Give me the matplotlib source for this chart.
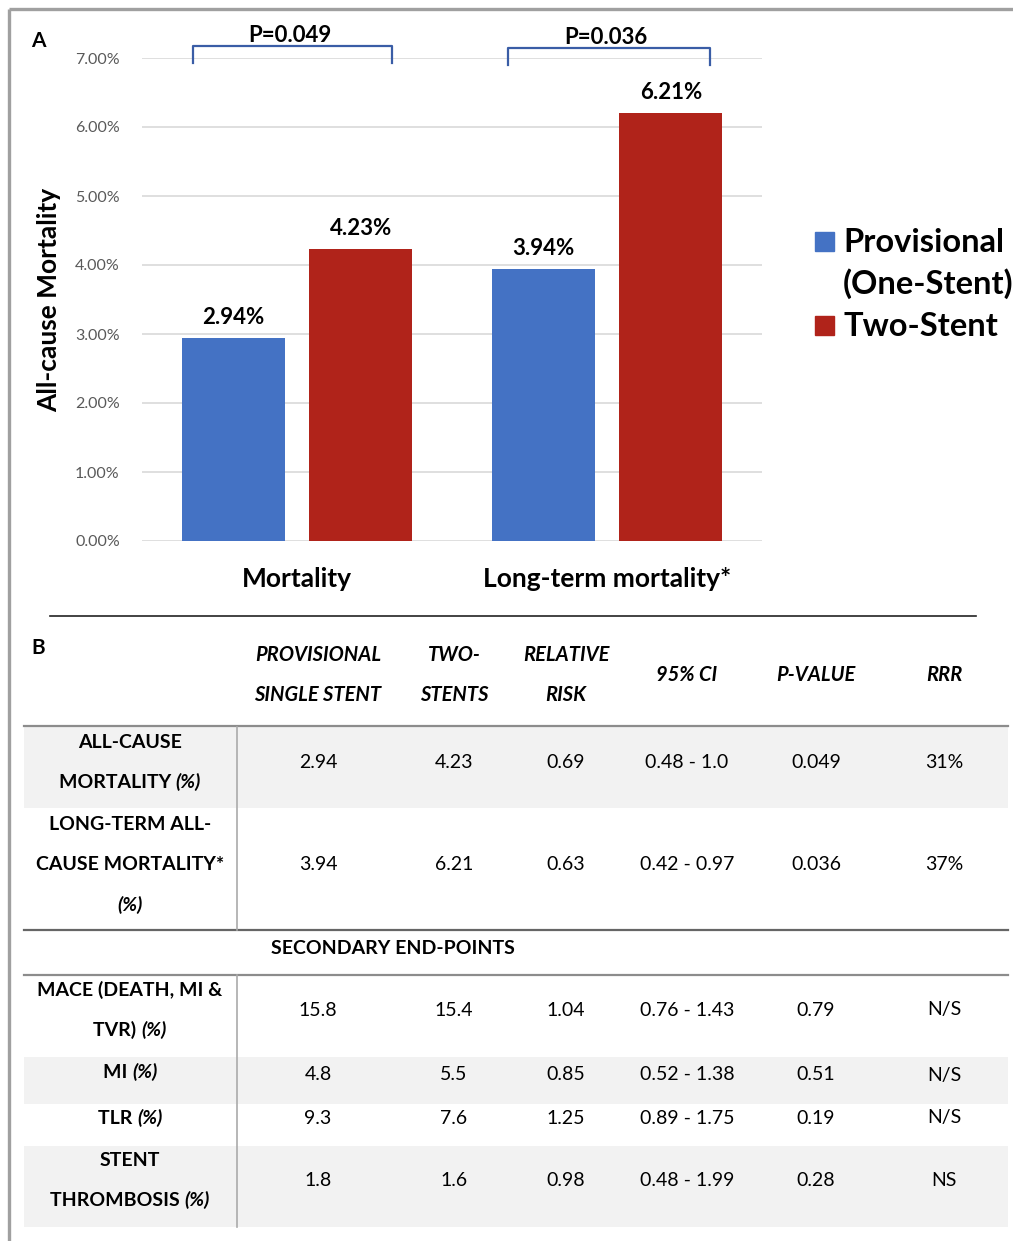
import matplotlib.pyplot as plt
from matplotlib.patches import Rectangle
import numpy as np

plt.rcParams['font.family'] = ['Lato', 'DejaVu Sans']

# data for panel A
groups = ['Mortality', 'Long-term mortality*']
provisional = [2.94, 3.94]
two_stent = [4.23, 6.21]
p_values = ['P=0.049', 'P=0.036']
yticks = [0, 1, 2, 3, 4, 5, 6, 7]

# data for panel B
col_heads = [['PROVISIONAL', 'SINGLE STENT'], ['TWO-', 'STENTS'], ['RELATIVE', 'RISK'],
             ['95% CI'], ['P-VALUE'], ['RRR']]
row_names = [[['ALL-CAUSE'], ['MORTALITY ', '(%)']],
             [['LONG-TERM ALL-'], ['CAUSE MORTALITY*'], ['', '(%)']],
             [['MACE (DEATH, MI &'], ['TVR) ', '(%)']],
             [['MI ', '(%)']],
             [['TLR ', '(%)']],
             [['STENT'], ['THROMBOSIS ', '(%)']]]
col_prov = ['2.94', '3.94', '15.8', '4.8', '9.3', '1.8']
col_two = ['4.23', '6.21', '15.4', '5.5', '7.6', '1.6']
col_rr = ['0.69', '0.63', '1.04', '0.85', '1.25', '0.98']
col_ci = ['0.48 - 1.0', '0.42 - 0.97', '0.76 - 1.43', '0.52 - 1.38', '0.89 - 1.75', '0.48 - 1.99']
col_p = ['0.049', '0.036', '0.79', '0.51', '0.19', '0.28']
col_rrr = ['31%', '37%', 'N/S', 'N/S', 'N/S', 'NS']

BLUE = '#4472C4'
RED = '#B0231A'
W, H = 1013, 1241

fig = plt.figure(figsize=(W / 100, H / 100), dpi=100)

# background canvas in pixel coordinates for frame, table, labels
bg = fig.add_axes([0, 0, 1, 1])
bg.set_xlim(0, W)
bg.set_ylim(H, 0)
bg.axis('off')

# gray frame (top and left)
bg.plot([9, W], [9, 9], color='#a0a0a0', lw=2.4, solid_capstyle='butt')
bg.plot([9, 9], [9, H], color='#a0a0a0', lw=2.4, solid_capstyle='butt')

# ---------- panel A : bar chart ----------
ax = fig.add_axes([142 / W, 1 - 541 / H, 620 / W, 483 / H])
x = np.arange(len(groups))
bw = 0.332
off = 0.206
b1 = ax.bar(x - off, provisional, bw, color=BLUE, zorder=3)
b2 = ax.bar(x + off, two_stent, bw, color=RED, zorder=3)
ax.set_xlim(-0.5, 1.5)
ax.set_ylim(0, 7)
ax.set_yticks(yticks)
ax.set_yticklabels(['{:.2f}%'.format(v) for v in yticks], fontsize=11.5, color='#595959')
ax.set_xticks(x)
ax.set_xticklabels(groups, fontsize=19, fontweight='bold')
ax.tick_params(length=0, axis='y', pad=16)
ax.tick_params(length=0, axis='x', pad=19)
ax.grid(axis='y', color='#d9d9d9', lw=1.2, zorder=0)
for s in ax.spines.values():
    s.set_visible(False)
ax.set_ylabel('All-cause Mortality', fontsize=19, fontweight='bold', labelpad=10)

for bars, vals in [(b1, provisional), (b2, two_stent)]:
    for r, v in zip(bars, vals):
        ax.text(r.get_x() + r.get_width() / 2, v + 0.14, '{:.2f}%'.format(v),
                ha='center', va='bottom', fontsize=16, fontweight='bold')

# p-value brackets
br_left = [-0.335, 0.68]
br_right = [0.306, 1.332]
br_top = [7.17, 7.14]
for i in range(len(groups)):
    ax.plot([br_left[i], br_left[i], br_right[i], br_right[i]],
            [br_top[i] - 0.24, br_top[i], br_top[i], br_top[i] - 0.24],
            color='#3a5da6', lw=1.6, clip_on=False)
    ax.text((br_left[i] + br_right[i]) / 2 - 0.01, br_top[i] + 0.01, p_values[i],
            ha='center', va='bottom', fontsize=16, fontweight='bold')

# legend (manual)
bg.add_patch(Rectangle((815, 232), 19, 19, color=BLUE))
bg.add_patch(Rectangle((815, 316), 19, 19, color=RED))
bg.text(843, 242, 'Provisional', fontsize=23.5, fontweight='bold', va='center', ha='left')
bg.text(843, 284, '(One-Stent)', fontsize=23.5, fontweight='bold', va='center', ha='left')
bg.text(843, 326, 'Two-Stent', fontsize=23.5, fontweight='bold', va='center', ha='left')

bg.text(31, 41, 'A', fontsize=15, fontweight='bold', va='center')
bg.text(31, 648, 'B', fontsize=15, fontweight='bold', va='center')

# separator
bg.plot([50, 976], [616, 616], color='#222222', lw=1.2)

# ---------- panel B : table ----------
TL, TR = 24, 1008
FS = 14
HFS = 14.5
col_x = [318, 454, 566, 687, 816, 944]

# header
for cx, lines in zip(col_x, col_heads):
    if len(lines) == 2:
        ys = [655, 695]
    else:
        ys = [675]
    for yy, t in zip(ys, lines):
        bg.text(cx, yy, t, fontsize=HFS, fontweight='bold', style='italic',
                ha='center', va='center')

# row geometry
row_top = [727, 808, 975, 1057, 1104, 1146]
row_bot = [808, 930, 1057, 1104, 1146, 1227]
row_num_y = [762, 864, 1010, 1075, 1118, 1181]
row_lines_y = [[742, 782], [825, 864, 905], [990, 1030], [1072], [1118], [1160, 1200]]
shaded = [True, False, False, True, False, True]

for i in range(len(row_top)):
    if shaded[i]:
        bg.add_patch(Rectangle((TL, row_top[i]), TR - TL, row_bot[i] - row_top[i],
                               color='#f2f2f2', zorder=0, lw=0))

renderer = fig.canvas.get_renderer()


def mixed_line(cx, cy, parts):
    # parts: [bold text, bold-italic text]
    styles = ['normal', 'italic']
    arts = []
    widths = []
    for t, st in zip(parts, styles):
        a = bg.text(0, cy, t, fontsize=FS, fontweight='bold', style=st,
                    ha='left', va='center')
        widths.append(a.get_window_extent(renderer).width if t else 0)
        arts.append(a)
    start = cx - sum(widths) / 2
    for a, w in zip(arts, widths):
        a.set_x(start)
        start += w


for i, lines in enumerate(row_names):
    for yy, parts in zip(row_lines_y[i], lines):
        mixed_line(130, yy, parts)

cols = [col_prov, col_two, col_rr, col_ci, col_p, col_rrr]
for cx, vals in zip(col_x, cols):
    for i, v in enumerate(vals):
        bg.text(cx, row_num_y[i], v, fontsize=FS, ha='center', va='center')

# secondary end-points
bg.text(393, 948, 'SECONDARY END-POINTS', fontsize=FS, fontweight='bold', ha='center', va='center')

# rules
bg.plot([TL, TR], [726, 726], color='#8c8c8c', lw=1.6)
bg.plot([TL, TR], [930, 930], color='#666666', lw=1.6)
bg.plot([TL, TR], [975, 975], color='#8c8c8c', lw=1.6)
bg.plot([237, 237], [727, 930], color='#aaaaaa', lw=1.2)
bg.plot([237, 237], [975, 1227], color='#aaaaaa', lw=1.2)

fig.savefig('out.png', dpi=100)
